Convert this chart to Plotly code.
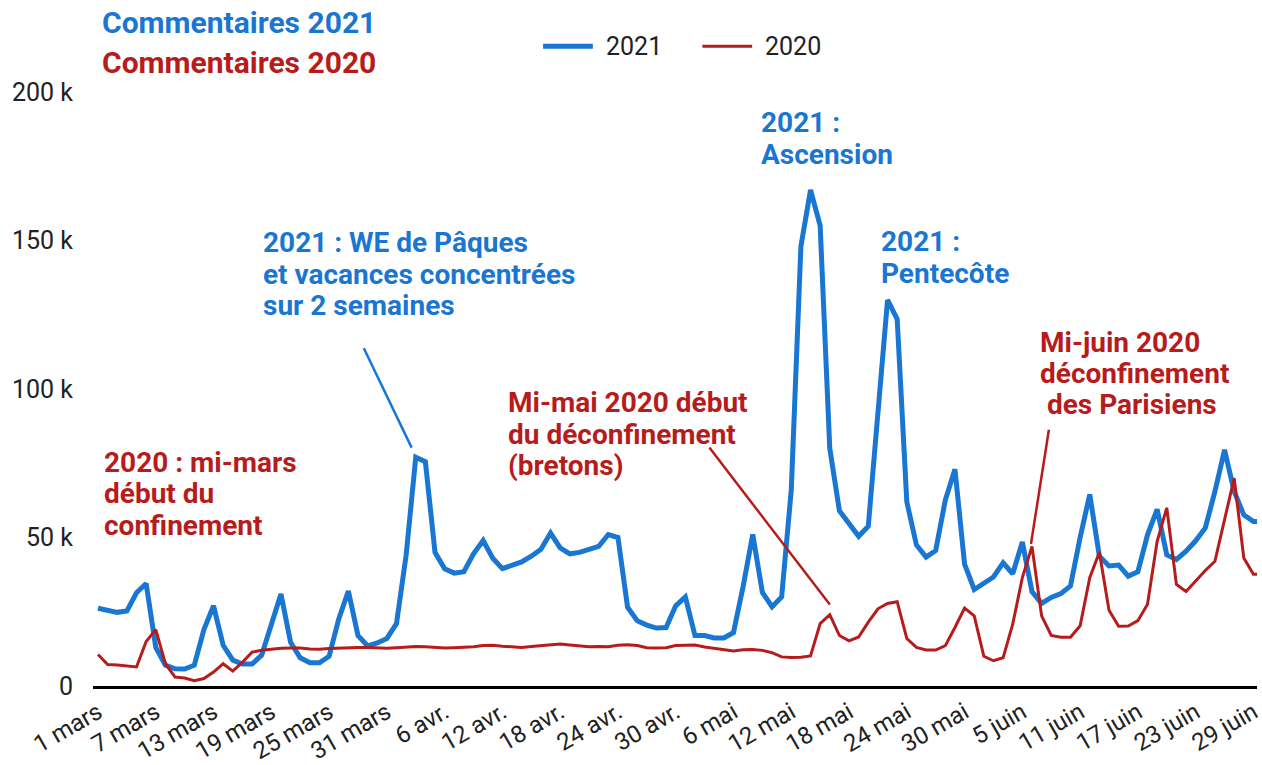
import pandas as pd
import plotly.graph_objects as go

# ---------------- data ----------------
dates = pd.date_range("2021-03-01", "2021-06-30", freq="D")

comments_2021_k = [
    26.2, 25.5, 24.8, 25.3, 31.4, 34.5, 13.0, 7.0, 5.8, 5.7,
    7.0, 19.0, 27.0, 13.7, 8.7, 7.4, 7.4, 10.4, 21.4, 31.0,
    14.7, 9.5, 7.8, 7.8, 10.0, 22.5, 32.0, 17.0, 13.5, 14.5,
    16.0, 21.0, 44.0, 77.0, 75.5, 45.0, 39.5, 38.0, 38.5, 44.5,
    49.0, 43.0, 39.5, 40.5, 41.8, 43.7, 46.0, 51.5, 46.5, 44.5,
    45.0, 46.0, 47.0, 51.0, 50.0, 26.5, 22.0, 20.5, 19.5, 19.7,
    27.0, 30.0, 17.0, 17.0, 16.2, 16.2, 18.0, 33.5, 51.0, 31.5,
    26.7, 30.0, 66.0, 148.0, 167.0, 155.0, 80.0, 59.0, 54.4, 50.4,
    53.8, 94.5, 130.0, 123.5, 62.0, 47.5, 43.4, 45.6, 62.6, 73.0,
    41.0, 32.5, 34.4, 36.7, 41.5, 37.8, 48.5, 31.8, 27.8, 29.8,
    31.1, 33.7, 50.0, 64.5, 43.7, 40.4, 40.7, 37.0, 38.5, 50.9,
    59.5, 44.2, 42.6, 45.4, 48.9, 53.2, 65.5, 79.5, 65.5, 57.6,
    55.4, 55.4,
]

comments_2020_k = [
    10.6, 7.2, 7.1, 6.7, 6.4, 15.0, 19.0, 7.5, 3.0, 2.7,
    1.8, 2.5, 4.7, 7.5, 5.0, 8.0, 11.4, 12.0, 12.4, 12.7,
    12.8, 12.8, 12.5, 12.4, 12.6, 12.8, 12.9, 13.0, 13.0, 12.8,
    12.7, 12.9, 13.1, 13.3, 13.2, 13.0, 12.8, 12.9, 13.0, 13.2,
    13.6, 13.7, 13.4, 13.1, 13.0, 13.3, 13.6, 13.9, 14.1, 13.8,
    13.4, 13.2, 13.3, 13.2, 13.7, 13.9, 13.6, 12.9, 12.8, 12.9,
    13.6, 13.7, 13.8, 13.1, 12.6, 12.1, 11.8, 12.2, 12.3, 12.0,
    11.2, 9.8, 9.6, 9.7, 10.1, 21.0, 24.0, 17.0, 15.2, 16.5,
    21.5, 26.0, 27.8, 28.4, 16.0, 13.0, 12.1, 12.1, 13.6, 19.7,
    26.2, 23.6, 10.0, 8.5, 9.5, 20.8, 36.5, 47.0, 23.6, 17.0,
    16.4, 16.4, 20.3, 36.5, 45.0, 25.5, 20.1, 20.2, 22.0, 27.5,
    48.7, 60.0, 34.2, 31.8, 35.4, 38.9, 42.0, 56.5, 70.0, 43.1,
    37.6, 37.6,
]

series_names = ["2021", "2020"]
tick_labels = ["1 mars", "7 mars", "13 mars", "19 mars", "25 mars", "31 mars",
               "6 avr.", "12 avr.", "18 avr.", "24 avr.", "30 avr.",
               "6 mai", "12 mai", "18 mai", "24 mai", "30 mai",
               "5 juin", "11 juin", "17 juin", "23 juin", "29 juin"]
y_tick_vals = [0, 50000, 100000, 150000, 200000]
y_tick_text = ["0", "50 k", "100 k", "150 k", "200 k"]

BLUE = "#1976D2"
RED = "#B71C1C"
INK = "#222222"
FONT = "Roboto"

# ---------------- geometry (page pixels) ----------------
W_FIG, H_FIG = 1262, 765
L, T = 93, 92
PW, PH = W_FIG - L, 690 - T


def xp(px):
    return (px - L) / PW


def yp(py):
    return (T + PH - py) / PH


fig = go.Figure()
fig.add_trace(go.Scatter(x=dates, y=[v * 1000 for v in comments_2021_k], name=series_names[0],
                         mode="lines", line=dict(color=BLUE, width=5), showlegend=False))
fig.add_trace(go.Scatter(x=dates, y=[v * 1000 for v in comments_2020_k], name=series_names[1],
                         mode="lines", line=dict(color=RED, width=3), showlegend=False))

annotations = []


def add_text(lines, x_px, y_px, color, spacing=31.5, size=28, bold=True):
    for i, t in enumerate(lines):
        annotations.append(dict(
            text=("<b>%s</b>" % t) if bold else t, xref="paper", yref="paper",
            x=xp(x_px), y=yp(y_px + i * spacing), xanchor="left", yanchor="middle",
            showarrow=False, font=dict(family=FONT, size=size, color=color)))


add_text(["Commentaires 2021"], 100, 22, BLUE, size=30)
add_text(["Commentaires 2020"], 100, 62, RED, size=30)
add_text(["2021 : WE de Pâques", "et vacances concentrées", "sur 2 semaines"], 262, 244, BLUE)
add_text(["2020 : mi-mars", "début du", "confinement"], 102, 465, RED)
add_text(["Mi-mai 2020 début", "du déconfinement", "(bretons)"], 508, 405, RED)
add_text(["2021 :", "Ascension"], 762, 123, BLUE)
add_text(["2021 :", "Pentecôte"], 882, 243, BLUE)
add_text(["Mi-juin 2020", "déconfinement", " des Parisiens"], 1042, 344, RED)

# legend (line sample + label)
add_text([series_names[0]], 606, 46, INK, size=25, bold=False)
add_text([series_names[1]], 766, 46, INK, size=25, bold=False)

shapes = [
    dict(type="line", xref="paper", yref="paper", x0=xp(545), y0=yp(46), x1=xp(595), y1=yp(46),
         line=dict(color=BLUE, width=5)),
    dict(type="line", xref="paper", yref="paper", x0=xp(705), y0=yp(46), x1=xp(755), y1=yp(46),
         line=dict(color=RED, width=3)),
    dict(type="line", xref="paper", yref="paper", x0=xp(365), y0=yp(350), x1=xp(413), y1=yp(450),
         line=dict(color=BLUE, width=2.5)),
    dict(type="line", xref="paper", yref="paper", x0=xp(712), y0=yp(450), x1=xp(833), y1=yp(608),
         line=dict(color=RED, width=2.5)),
    dict(type="line", xref="paper", yref="paper", x0=xp(1053), y0=yp(432), x1=xp(1035), y1=yp(547),
         line=dict(color=RED, width=2.5)),
]

day = pd.Timedelta(days=1)
fig.update_layout(
    width=W_FIG, height=H_FIG,
    margin=dict(l=L, r=0, t=T, b=H_FIG - (T + PH), pad=0),
    paper_bgcolor="white", plot_bgcolor="white",
    font=dict(family=FONT, size=24, color=INK),
    showlegend=False,
    annotations=annotations,
    shapes=shapes,
    xaxis=dict(
        range=[dates[0] - 0.52 * day, dates[0] + 120.37 * day],
        tickvals=list(dates[::6]), ticktext=tick_labels, tickangle=-30,
        showgrid=False, zeroline=False, showline=True, linecolor="black", linewidth=3,
        ticks="", ticklabeloverflow="allow",
        tickfont=dict(family=FONT, size=24, color=INK),
    ),
    yaxis=dict(
        range=[0, 200000], tickvals=y_tick_vals, ticktext=y_tick_text,
        showgrid=False, zeroline=False, showline=False, ticks="",
        ticklabelstandoff=19, tickfont=dict(family=FONT, size=25, color=INK),
    ),
)

fig.write_html("out.html", config={"displayModeBar": False},
               post_script="document.body.style.margin='0';")
